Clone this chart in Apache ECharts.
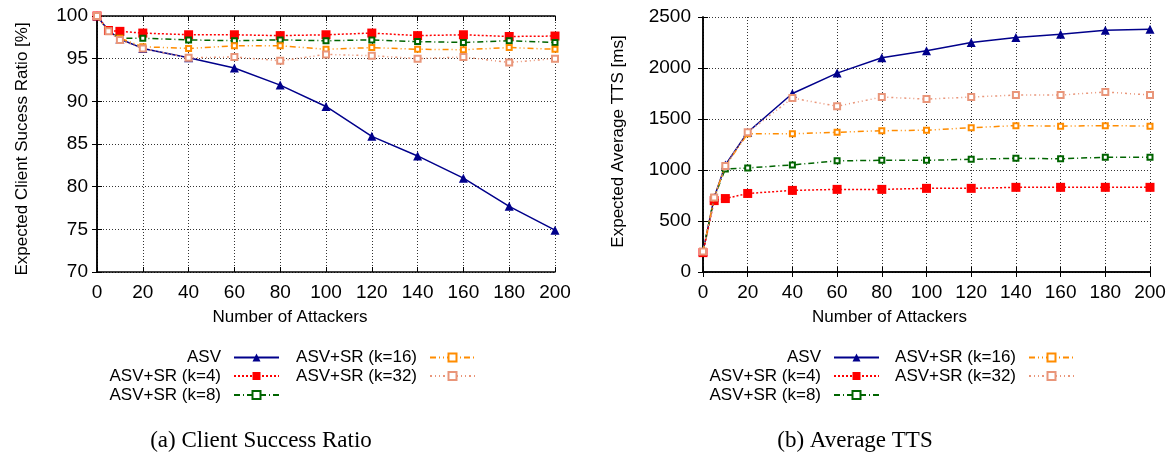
<!DOCTYPE html>
<html>
<head>
<meta charset="utf-8">
<script src="https://cdn.jsdelivr.net/npm/echarts@6/dist/echarts.min.js"></script>
<style>
  html, body { margin: 0; padding: 0; background: #fff; }
  #chart { width: 1174px; height: 455px; }
</style>
</head>
<body>
<div id="chart"></div>
<script>
// Number of attackers (shared x values of both panels)
const attackers = [0, 5, 10, 20, 40, 60, 80, 100, 120, 140, 160, 180, 200];

// Panel (a): expected client success ratio [%]
const ratioASV = [100, 98.3, 97.3, 96.2, 95.1, 93.9, 91.9, 89.4, 85.9, 83.6, 81.0, 77.7, 74.9];
const ratioK4  = [100, 98.3, 98.2, 98.0, 97.8, 97.8, 97.7, 97.8, 98.0, 97.7, 97.8, 97.6, 97.65];
const ratioK8  = [100, 98.2, 97.4, 97.4, 97.2, 97.1, 97.2, 97.1, 97.2, 97.0, 96.9, 97.1, 96.9];
const ratioK16 = [100, 98.2, 97.4, 96.4, 96.2, 96.5, 96.5, 96.1, 96.3, 96.1, 96.05, 96.3, 96.1];
const ratioK32 = [100, 98.2, 97.2, 96.2, 95.1, 95.2, 94.75, 95.5, 95.35, 95.0, 95.2, 94.55, 95.0];

// Panel (b): expected average TTS [ms]
const ttsASV = [200, 730, 1050, 1370, 1750, 1950, 2100, 2170, 2250, 2300, 2330, 2370, 2380];
const ttsK4  = [190, 700, 720, 770, 800, 810, 810, 820, 820, 830, 830, 830, 830];
const ttsK8  = [200, 730, 1010, 1020, 1050, 1090, 1095, 1095, 1105, 1115, 1110, 1125, 1125];
const ttsK16 = [200, 730, 1040, 1355, 1355, 1370, 1385, 1390, 1415, 1435, 1430, 1435, 1430];
const ttsK32 = [200, 730, 1040, 1370, 1705, 1625, 1715, 1695, 1715, 1735, 1735, 1765, 1735];

// Tick settings
const xTicks = { min: 0, max: 200, interval: 20 };
const ratioTicks = { min: 70, max: 100, interval: 5 };
const ttsTicks = { min: 0, max: 2500, interval: 500 };

const seriesNames = ['ASV', 'ASV+SR (k=4)', 'ASV+SR (k=8)', 'ASV+SR (k=16)', 'ASV+SR (k=32)'];

const SANS = 'Liberation Sans, Arial, Helvetica, sans-serif';
const SERIF = 'Liberation Serif, Times New Roman, serif';

// Per-series look: colour, dash pattern, marker
const styles = [
  { color: '#00008b', type: 'solid', symbol: 'triangle', size: 9, border: 0 },
  { color: '#ff0000', type: [2, 2], symbol: 'rect', size: 9, border: 0 },
  { color: '#006400', type: [6, 3, 1, 3], symbol: 'emptyRect', size: 5, border: 3.5 },
  { color: '#ff8c00', type: [6, 3, 1, 3, 1, 3], symbol: 'emptyRect', size: 5, border: 3.5 },
  { color: '#e9967a', type: [2, 3, 1, 3, 1, 3], symbol: 'emptyRect', size: 6, border: 4 }
];

const ratioData = [ratioASV, ratioK4, ratioK8, ratioK16, ratioK32];
const ttsData = [ttsASV, ttsK4, ttsK8, ttsK16, ttsK32];

function pairs(vals) {
  return attackers.map((x, i) => [x, vals[i]]);
}

function makeSeries(valsList, xIdx, yIdx) {
  return valsList.map((vals, i) => {
    const s = styles[i];
    return {
      name: seriesNames[i],
      type: 'line',
      xAxisIndex: xIdx,
      yAxisIndex: yIdx,
      data: pairs(vals),
      symbol: s.symbol,
      symbolSize: s.size,
      showAllSymbol: true,
      lineStyle: { color: s.color, width: 1.5, type: s.type },
      itemStyle: { color: s.color, borderColor: s.color, borderWidth: s.border },
      emphasis: { disabled: true },
      z: 3 + i
    };
  });
}

const tickLabel = { fontSize: 19, fontFamily: SANS, color: '#000', formatter: v => String(v) };
const splitDots = { show: true, lineStyle: { color: '#333', type: [1, 2], width: 1 } };
const frameLine = { show: true, lineStyle: { color: '#000', width: 1.5 } };
const tickIn = { show: true, inside: true, length: 5, lineStyle: { color: '#000', width: 1 } };

function bottomX(grid, namePad) {
  return {
    type: 'value', gridIndex: grid, position: 'bottom',
    min: xTicks.min, max: xTicks.max, interval: xTicks.interval,
    name: 'Number of Attackers', nameLocation: 'middle', nameGap: 37,
    nameTextStyle: { fontSize: 17, fontFamily: SANS, color: '#000', padding: [0, namePad, 0, 0] },
    axisLine: frameLine, axisTick: tickIn,
    axisLabel: Object.assign({ margin: 11 }, tickLabel),
    splitLine: splitDots
  };
}
function topX(grid) {
  return {
    type: 'value', gridIndex: grid, position: 'top',
    min: xTicks.min, max: xTicks.max, interval: xTicks.interval,
    axisLine: frameLine, axisTick: tickIn,
    axisLabel: { show: false }, splitLine: { show: false }
  };
}
function leftY(grid, ticks, name, gap, pad, margin) {
  return {
    type: 'value', gridIndex: grid, position: 'left',
    min: ticks.min, max: ticks.max, interval: ticks.interval,
    name: name, nameLocation: 'middle', nameGap: gap,
    nameTextStyle: { fontSize: 17, fontFamily: SANS, color: '#000', padding: pad },
    axisLine: frameLine, axisTick: tickIn,
    axisLabel: Object.assign({ margin: margin }, tickLabel),
    splitLine: splitDots
  };
}
function rightY(grid, ticks) {
  return {
    type: 'value', gridIndex: grid, position: 'right',
    min: ticks.min, max: ticks.max, interval: ticks.interval,
    axisLine: frameLine, axisTick: tickIn,
    axisLabel: { show: false }, splitLine: { show: false }
  };
}

// One legend box per entry, right-anchored so text sits flush against its sample
function legendItem(name, right, top) {
  return {
    data: [name],
    right: right, top: top,
    orient: 'horizontal', align: 'right',
    itemWidth: 45, itemHeight: 10, padding: 0,
    selectedMode: false,
    textStyle: { fontSize: 17, fontFamily: SANS, color: '#000', padding: [0, 8, 0, 0] }
  };
}

const rowTops = [349, 367.5, 386.5];
const legends = [
  // panel (a)
  legendItem(seriesNames[0], 894, rowTops[0]),
  legendItem(seriesNames[1], 894, rowTops[1]),
  legendItem(seriesNames[2], 894, rowTops[2]),
  legendItem(seriesNames[3], 698, rowTops[0]),
  legendItem(seriesNames[4], 698, rowTops[1]),
  // panel (b)
  legendItem(seriesNames[0], 294, rowTops[0]),
  legendItem(seriesNames[1], 294, rowTops[1]),
  legendItem(seriesNames[2], 294, rowTops[2]),
  legendItem(seriesNames[3], 99, rowTops[0]),
  legendItem(seriesNames[4], 99, rowTops[1])
];

const chart = echarts.init(document.getElementById('chart'), null, { renderer: 'canvas' });

chart.setOption({
  animation: false,
  backgroundColor: '#fff',
  title: [
    { text: '(a) Client Success Ratio', left: 256, top: 424, textAlign: 'center',
      textStyle: { fontSize: 23, fontWeight: 'normal', fontFamily: SERIF, color: '#000' } },
    { text: '(b) Average TTS', left: 850, top: 424, textAlign: 'center',
      textStyle: { fontSize: 23, fontWeight: 'normal', fontFamily: SERIF, color: '#000' } }
  ],
  legend: legends,
  grid: [
    { left: 97, right: 619, top: 16, bottom: 183, containLabel: false },
    { left: 703, right: 24, top: 17, bottom: 183, containLabel: false }
  ],
  xAxis: [bottomX(0, 72), topX(0), bottomX(1, 74), topX(1)],
  yAxis: [
    leftY(0, ratioTicks, 'Expected Client Sucess Ratio [%]', 66, [0, 10, 0, 0], 9),
    rightY(0, ratioTicks),
    leftY(1, ttsTicks, 'Expected Average TTS [ms]', 76, [0, 0, 0, 6], 12),
    rightY(1, ttsTicks)
  ],
  series: makeSeries(ratioData, 0, 0).concat(makeSeries(ttsData, 2, 2))
});
</script>
</body>
</html>
